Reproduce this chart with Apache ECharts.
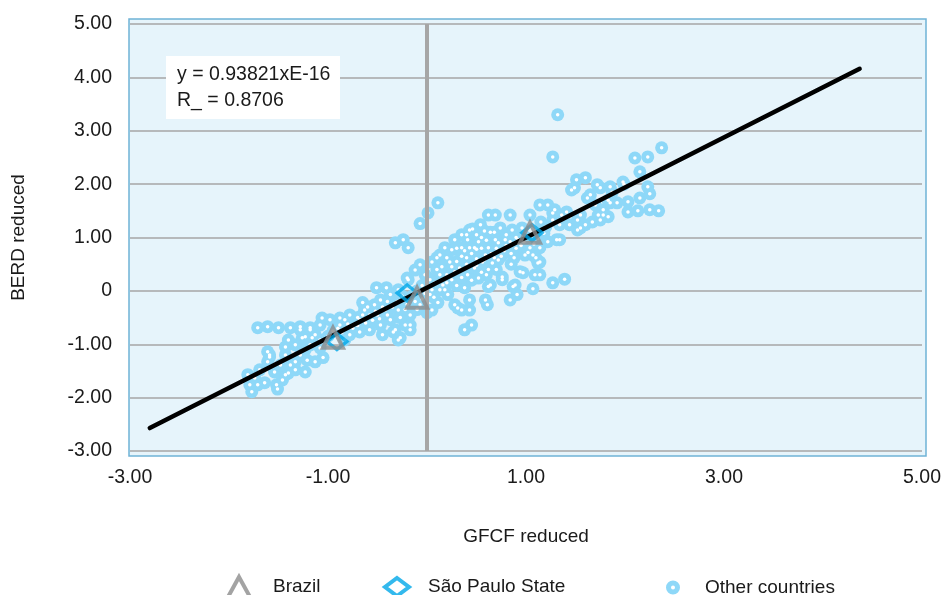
<!DOCTYPE html>
<html>
<head>
<meta charset="utf-8">
<script src="https://cdn.jsdelivr.net/npm/echarts@6/dist/echarts.min.js"></script>
<style>
html,body{margin:0;padding:0;background:#fff;}
#chart{width:944px;height:595px;}
</style>
</head>
<body>
<div id="chart"></div>
<script>
// ---- Data ----
const xTicks = [-3, -1, 1, 3, 5];
const yTicks = [-3, -2, -1, 0, 1, 2, 3, 4, 5];

const brazil = [[-0.95, -0.88], [-0.10, -0.13], [1.04, 1.09]];
const saoPaulo = [[-0.91, -0.95], [-0.20, -0.04], [1.06, 1.09]];

const otherCountries = [
  [-1.79,-1.76],[-1.81,-1.57],[-1.77,-1.89],[-1.71,-1.76],[-1.74,-1.63],[-1.69,-1.48],[-1.64,-1.72],
  [-1.52,-1.76],[-1.51,-1.84],[-1.46,-1.67],[-1.54,-1.52],[-1.40,-1.54],[-1.43,-1.57],[-1.38,-1.39],
  [-1.48,-1.39],[-1.33,-1.48],[-1.23,-1.52],[-1.33,-1.33],[-1.61,-1.33],[-1.59,-1.24],[-1.61,-1.14],
  [-1.59,-1.20],[-1.43,-1.20],[-1.43,-1.05],[-1.28,-1.20],[-1.23,-1.10],[-1.13,-1.33],[-1.05,-1.25],
  [-1.21,-1.30],[-1.08,-1.07],[-1.18,-1.01],[-1.33,-1.01],[-1.40,-0.92],[-1.26,-0.88],[-1.16,-0.88],
  [-1.08,-0.92],[-1.23,-0.86],[-1.13,-0.82],[-1.18,-0.73],[-1.28,-0.73],[-1.38,-0.69],[-1.50,-0.69],
  [-1.61,-0.67],[-1.71,-0.69],[-1.28,-0.67],[-1.18,-0.69],[-1.06,-0.51],[-1.08,-0.64],[-0.98,-0.54],
  [-0.88,-0.51],[-0.88,-0.64],[-0.83,-0.54],[-0.78,-0.45],[-0.73,-0.64],[-0.68,-0.54],[-0.63,-0.36],
  [-0.58,-0.45],[-0.53,-0.26],[-0.47,-0.17],[-0.42,-0.36],[-0.37,-0.07],[-0.29,0.02],[-0.29,-0.36],
  [-0.37,-0.54],[-0.47,-0.64],[-0.58,-0.73],[-0.68,-0.77],[-0.78,-0.82],[-0.83,-0.92],[-0.45,-0.82],
  [-0.34,-0.77],[-0.32,-0.73],[-0.27,-0.88],[-0.29,-0.92],[-0.17,-0.73],[-0.22,-0.64],[-0.17,-0.64],
  [-0.17,-0.45],[-0.07,-0.26],[-0.65,-0.22],[-0.51,0.06],[-0.41,0.06],[-0.19,0.21],[-0.20,0.24],
  [-0.12,0.39],[-0.07,0.49],[-0.02,0.30],[0.00,0.26],[0.05,0.54],[0.10,0.62],[0.13,0.67],[0.03,0.21],
  [0.03,-0.07],[0.05,-0.36],[0.00,-0.41],[0.05,0.02],[0.13,0.02],[0.16,0.11],[0.21,-0.07],[0.11,-0.22],
  [0.28,-0.26],[0.31,-0.32],[0.35,-0.36],[0.43,-0.36],[0.43,-0.17],[0.59,-0.17],[0.61,-0.26],[0.45,-0.64],
  [0.38,-0.73],[0.38,0.06],[0.25,0.21],[0.13,0.30],[0.28,0.36],[0.33,0.43],[0.41,0.30],[0.48,0.43],
  [0.52,0.24],[0.56,0.54],[0.64,0.11],[0.62,0.08],[0.76,0.21],[0.76,0.26],[0.89,0.11],[0.87,0.08],
  [0.91,-0.07],[0.84,-0.17],[0.94,0.36],[0.97,0.34],[1.07,0.04],[1.09,0.30],[1.14,0.30],[1.27,0.15],
  [1.39,0.22],[1.14,0.54],[1.12,0.52],[1.10,0.62],[0.99,0.67],[1.07,0.67],[0.72,0.58],[0.59,0.67],
  [0.48,0.81],[0.41,0.96],[0.35,0.81],[0.43,1.14],[0.46,1.16],[0.54,1.24],[0.62,1.42],[0.69,1.42],
  [0.23,0.54],[0.18,0.81],[0.25,0.77],[0.28,0.96],[0.35,1.05],[0.43,0.81],[0.52,0.92],[0.62,0.81],
  [0.64,1.10],[0.69,0.96],[0.74,1.18],[0.79,0.96],[0.84,1.42],[0.86,1.14],[0.92,0.96],[0.96,1.18],
  [1.04,0.81],[1.14,0.81],[1.04,1.42],[1.14,1.61],[1.22,1.61],[1.27,1.33],[1.15,1.29],[1.29,1.52],
  [1.27,1.46],[1.34,0.96],[1.31,0.96],[1.34,1.24],[1.36,1.42],[1.41,1.48],[1.44,1.24],[1.52,1.14],
  [1.52,1.33],[1.55,1.18],[1.55,1.42],[1.60,1.24],[1.67,1.29],[1.75,1.33],[1.70,1.61],[1.78,1.42],
  [1.78,1.52],[1.65,1.80],[1.62,1.74],[1.46,1.89],[1.49,1.93],[1.51,2.08],[1.60,2.12],[1.72,1.99],
  [1.75,1.93],[1.83,1.70],[1.85,1.65],[1.87,1.85],[1.85,1.95],[1.99,2.00],[1.98,2.04],[2.03,1.48],
  [2.13,1.50],[2.25,1.52],[2.34,1.50],[2.03,1.67],[1.92,1.65],[2.15,1.74],[2.23,1.95],[2.25,1.82],
  [2.15,2.23],[2.10,2.49],[2.23,2.51],[2.37,2.68],[1.83,1.39],[1.73,1.42],[1.27,2.51],[1.32,3.30],
  [-0.32,0.90],[-0.24,0.96],[-0.19,0.81],[-0.07,1.26],[0.11,1.65],[0.01,1.46],
  [0.15,0.45],[0.20,0.30],[0.30,0.55],[0.35,0.65],[0.40,0.50],[0.45,0.70],[0.50,0.60],[0.55,0.80],
  [0.60,0.95],[0.65,0.70],[0.70,0.80],[0.75,0.65],[0.80,0.85],[0.85,0.70],[0.90,0.80],[0.95,0.85],
  [0.70,0.40],[0.60,0.30],[0.45,0.20],[0.30,0.10],[0.20,0.15],[0.85,0.50],[0.80,1.05],[0.90,1.00],
  [1.00,1.00],[0.55,1.00],[0.50,1.05],
  [-0.60,-0.30],[-0.50,-0.45],[-0.45,-0.30],[-0.40,-0.20],[-0.30,-0.20],[-0.25,-0.10],[-0.20,-0.25],
  [-0.15,-0.10],[-0.10,0.00],[-0.05,0.10],[0.00,0.05],[-0.10,-0.35],[-0.05,-0.15],[0.08,0.15],
  [-0.55,-0.55],[-0.70,-0.65],[-0.75,-0.70],[-0.95,-0.75],[-1.00,-0.85],[-0.90,-0.70],[-0.65,-0.45],
  [-0.80,-0.62],[-0.70,-0.50],[-0.62,-0.60],[-0.52,-0.38],[-0.48,-0.52],[-0.40,-0.45],[-0.35,-0.30],
  [-0.27,-0.50],[-0.22,-0.35],[-0.12,-0.20],[-0.02,-0.05],[0.07,-0.12],[0.18,0.02],[0.10,0.40],
  [0.20,0.62],[0.25,0.45],[0.38,0.75],[0.40,0.62],[0.50,0.78],[0.58,0.58],[0.66,0.52],[0.68,0.62],
  [0.72,0.90],[0.78,0.75],[0.84,0.92],[0.88,0.62],[0.98,0.92],[1.02,0.72],[1.08,0.88],[1.12,0.98],
  [1.18,1.08],[1.22,0.92],[1.20,1.20],[0.58,1.12],[0.68,1.10],[0.40,1.05],[0.30,0.80],[0.55,0.35],
  [0.50,0.48],[0.35,0.25],[0.62,0.40]
];

// Fitted line end points
const fitLine = [[-2.80, -2.57], [4.37, 4.16]];
// Vertical reference line at x = 0
const zeroLine = [[0, -3], [0, 5]];

const equationText = 'y = 0.93821xE-16';
const rText = 'R_ = 0.8706';

// ---- Chart ----
const FONT = '"Liberation Sans", Arial, sans-serif';
const TXT = '#1a1a1a';
const chart = echarts.init(document.getElementById('chart'), null, {renderer: 'canvas'});

const fmt = v => (Math.abs(v) < 1e-9 ? '0' : v.toFixed(2));
const ringIcon = 'path://M0,-7A7,7 0 1,1 0,7A7,7 0 1,1 0,-7Z M0,-2A2,2 0 1,0 0,2A2,2 0 1,0 0,-2Z';

chart.setOption({
  animation: false,
  backgroundColor: '#ffffff',
  textStyle: {fontFamily: FONT},
  grid: {left: 130, right: 22, top: 24, bottom: 144, containLabel: false},
  graphic: [
    {
      type: 'rect', z: -10, silent: true,
      shape: {x: 129, y: 19, width: 797, height: 437},
      style: {fill: '#E6F4FB', stroke: '#6FB3D6', lineWidth: 1.5}
    },
    {
      type: 'rect', z: 100, silent: true,
      shape: {x: 166, y: 56, width: 174, height: 63},
      style: {fill: '#ffffff'}
    },
    {
      type: 'text', z: 101, silent: true, x: 177, y: 65,
      style: {text: equationText, font: '19.5px ' + FONT, fill: TXT}
    },
    {
      type: 'text', z: 101, silent: true, x: 177, y: 91,
      style: {text: rText, font: '19.5px ' + FONT, fill: TXT}
    }
  ],
  legend: [
    {left: 221, top: 570, itemWidth: 22, itemHeight: 20,
     data: [{name: 'Brazil', itemStyle: {color: 'rgba(0,0,0,0)', borderColor: '#8C8C8C', borderWidth: 4}}],
     textStyle: {fontSize: 19, color: TXT, fontFamily: FONT, padding: [0, 0, 0, 18]}},
    {left: 378, top: 571, itemWidth: 24, itemHeight: 18,
     data: [{name: 'São Paulo State', itemStyle: {color: 'rgba(0,0,0,0)', borderColor: '#00A8E8', borderWidth: 4}}],
     textStyle: {fontSize: 19, color: TXT, fontFamily: FONT, padding: [0, 0, 0, 14]}},
    {left: 661, top: 573, itemWidth: 14, itemHeight: 14,
     data: [{name: 'Other countries', icon: ringIcon}],
     textStyle: {fontSize: 19, color: TXT, fontFamily: FONT, padding: [0, 0, 0, 20]}}
  ],
  xAxis: {
    type: 'value', min: xTicks[0], max: xTicks[xTicks.length - 1], interval: 2,
    name: 'GFCF reduced', nameLocation: 'middle', nameGap: 76,
    nameTextStyle: {fontSize: 19, color: TXT, fontFamily: FONT},
    axisLine: {show: false}, axisTick: {show: false}, splitLine: {show: false},
    axisLabel: {formatter: fmt, fontSize: 19.5, color: TXT, margin: 17, fontFamily: FONT,
      showMinLabel: true, showMaxLabel: true}
  },
  yAxis: {
    type: 'value', min: yTicks[0], max: yTicks[yTicks.length - 1], interval: 1,
    name: 'BERD reduced', nameLocation: 'middle', nameGap: 102,
    nameTextStyle: {fontSize: 19, color: TXT, fontFamily: FONT},
    axisLine: {show: false}, axisTick: {show: false},
    splitLine: {show: true, lineStyle: {color: '#A6A6A6', width: 1.5}},
    axisLabel: {formatter: fmt, fontSize: 19.5, color: TXT, margin: 18, fontFamily: FONT}
  },
  series: [
    {
      name: 'Other countries', type: 'scatter', z: 2,
      data: otherCountries, symbol: 'circle', symbolSize: 13,
      itemStyle: {color: '#8ED8F8', opacity: 1}
    },
    {
      name: 'Other countries centres', type: 'scatter', z: 2.5, silent: true,
      data: otherCountries, symbol: 'circle', symbolSize: 3.5,
      itemStyle: {color: '#ffffff', opacity: 1}
    },
    {
      name: 'zero', type: 'line', z: 3, data: zeroLine, symbol: 'none', silent: true,
      lineStyle: {color: '#A6A6A6', width: 4}
    },
    {
      name: 'fit', type: 'line', z: 4, data: fitLine, symbol: 'none', silent: true,
      lineStyle: {color: '#000000', width: 4.5, cap: 'round'}
    },
    {
      name: 'São Paulo State', type: 'scatter', z: 5, data: saoPaulo,
      symbol: 'diamond', symbolSize: [20, 16],
      itemStyle: {color: 'rgba(0,0,0,0)', borderColor: '#00A8E8', borderWidth: 3.5}
    },
    {
      name: 'Brazil', type: 'scatter', z: 6, data: brazil,
      symbol: 'triangle', symbolSize: [20, 20],
      itemStyle: {color: 'rgba(0,0,0,0)', borderColor: '#8C8C8C', borderWidth: 4}
    }
  ]
});
</script>
</body>
</html>
